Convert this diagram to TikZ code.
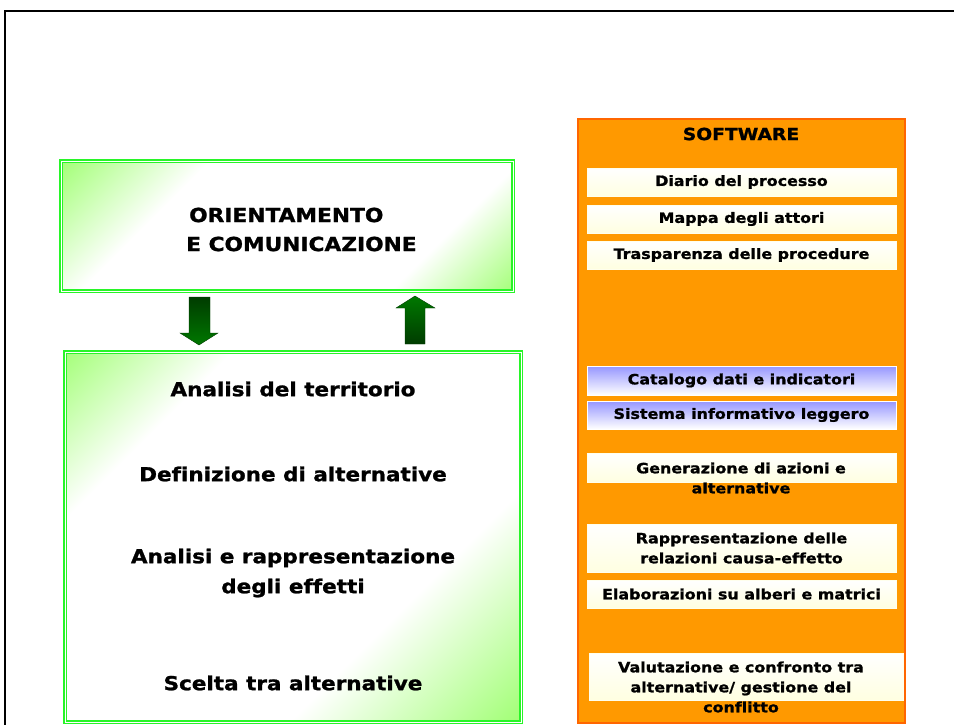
\documentclass[tikz,border=0pt]{standalone}
\usepackage{fontspec}
\setmainfont{DejaVu Sans}[FakeStretch=1.12, Ligatures=NoCommon, BoldFeatures={FakeBold=1.2}]
\usetikzlibrary{calc}
\definecolor{frgreen}{RGB}{40,245,40}
\definecolor{lgreen}{RGB}{150,255,100}
\definecolor{orfill}{RGB}{255,153,0}
\definecolor{ordraw}{RGB}{255,102,0}
\definecolor{cream}{RGB}{255,255,225}
\definecolor{lblue}{RGB}{150,150,255}
\definecolor{dkgreen}{RGB}{0,60,0}
\definecolor{mdgreen}{RGB}{0,120,0}
\pgfdeclarehorizontalshading{gwgtop}{100bp}{color(0bp)=(lgreen); color(26bp)=(lgreen); color(39bp)=(white); color(63bp)=(white); color(74bp)=(lgreen); color(100bp)=(lgreen)}
\pgfdeclarehorizontalshading{gwgbot}{100bp}{color(0bp)=(lgreen); color(16bp)=(lgreen); color(31bp)=(white); color(64bp)=(white); color(84bp)=(lgreen); color(100bp)=(lgreen)}
\tikzset{
  greenbox/.style={draw=frgreen, line width=1.2pt, double=white, double distance=0.8pt,
    path picture={\shade[shading=#1, shading angle=-45]
      ($(path picture bounding box.center)+(-230pt,-230pt)$) rectangle ++(460pt,460pt);},
    inner sep=0pt, outer sep=0pt, anchor=north west},
  orbox/.style={draw=ordraw, line width=2pt, fill=orfill, inner sep=0pt, outer sep=0pt, anchor=north west},
  swbox/.style={draw=cream!60!white, line width=0.5pt, top color=white, bottom color=cream,
    inner sep=0pt, outer sep=0pt, anchor=north west, minimum width=309pt},
  bluebox/.style={swbox, top color=lblue, bottom color=white, draw=white},
  swtext/.style={font=\bfseries\fontsize{14.2}{20}\selectfont, align=center},
  bigtext/.style={font=\bfseries\fontsize{19.2}{30}\selectfont, align=center},
  downarrow/.style={top color=dkgreen, bottom color=mdgreen, draw=dkgreen, line width=0.4pt},
  uparrow/.style={top color=mdgreen, bottom color=dkgreen, draw=dkgreen, line width=0.4pt},
}
\begin{document}
\begin{tikzpicture}[x=1pt,y=-1pt]
\useasboundingbox (0,0) rectangle (954,724);
\clip (0,0) rectangle (954,724);
% outer frame
\draw[line width=2pt] (5,740) -- (5,10.5) -- (970,10.5);

% left green boxes
\node[greenbox=gwgtop, minimum width=452pt, minimum height=130pt] (top) at (61,161) {};
\node[greenbox=gwgbot, minimum width=456pt, minimum height=370pt] (bot) at (65,352) {};

\node[font=\bfseries\fontsize{19.4}{30}\selectfont, anchor=west, inner sep=0pt] (or1) at (189,215) {ORIENTAMENTO};
\node[font=\bfseries\fontsize{19.4}{30}\selectfont, anchor=west, inner sep=0pt] (or2) at (186,244) {E COMUNICAZIONE};

\node[bigtext] (a1) at (293,389) {Analisi del territorio};
\node[bigtext] (a2) at (293,474) {Definizione di alternative};
\node[bigtext] (a3) at (293,573) {Analisi e rappresentazione\\degli effetti};
\node[bigtext] (a4) at (293,683) {Scelta tra alternative};

% block arrows between the two boxes
\path[downarrow] (189,297) -- (210,297) -- (210,333) -- (218,333) -- (199,345) -- (180,333) -- (189,333) -- cycle;
\path[uparrow] (405,344) -- (405,308) -- (396,308) -- (415,296) -- (435,308) -- (425,308) -- (425,344) -- cycle;

% software column
\node[orbox, minimum width=327pt, minimum height=604pt] (sw) at (578,119) {};
\node[font=\bfseries\fontsize{16.7}{18}\selectfont] (swt) at (741,134) {SOFTWARE};

\node[swbox, minimum height=28pt] (s1) at (587,168) {};
\node[swtext] at (s1) {Diario del processo};
\node[swbox, minimum height=28pt] (s2) at (587,205) {};
\node[swtext] at (s2) {Mappa degli attori};
\node[swbox, minimum height=28pt] (s3) at (587,241) {};
\node[swtext] at (s3) {Trasparenza delle procedure};

\node[bluebox, minimum height=29pt] (s4) at (587,366) {};
\node[swtext] at (s4) {Catalogo dati e indicatori};
\node[bluebox, minimum height=28pt] (s5) at (587,401) {};
\node[swtext] at (s5) {Sistema informativo leggero};

\node[swbox, minimum height=29pt] (s6) at (587,453) {};
\node[swtext] (t6) at (741,478) {Generazione di azioni e\\alternative};
\node[swbox, minimum height=48pt] (s7) at (587,524) {};
\node[swtext] at (s7) {Rappresentazione delle\\relazioni causa-effetto};
\node[swbox, minimum height=28pt] (s8) at (587,580) {};
\node[swtext] at (s8) {Elaborazioni su alberi e matrici};
\node[swbox, minimum height=47pt, minimum width=314pt] (s9) at (589,653) {};
\node[swtext] (t9) at (741,687) {Valutazione e confronto tra\\alternative/ gestione del\\conflitto};
\end{tikzpicture}
\end{document}
